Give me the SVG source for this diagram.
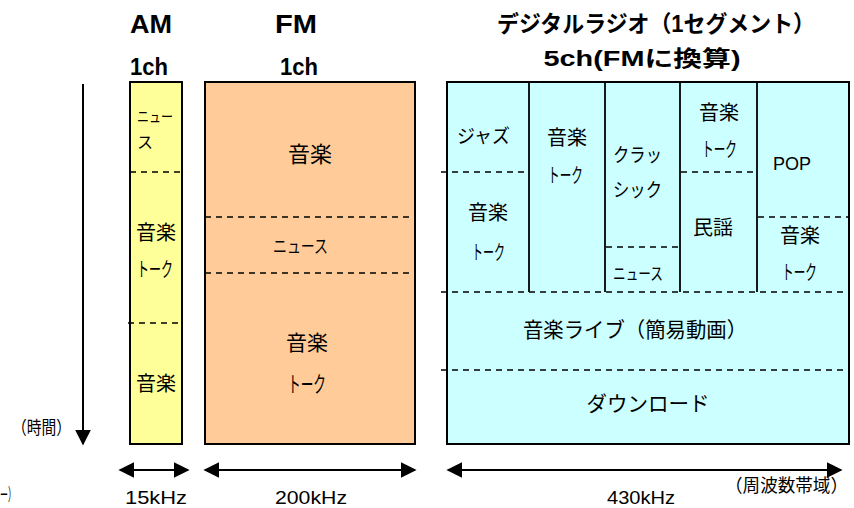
<svg xmlns="http://www.w3.org/2000/svg" width="854" height="508" viewBox="0 0 854 508">
<style>
.box{stroke:#000;stroke-width:2}
.dash{stroke:#000;stroke-width:1.6;stroke-dasharray:6,5;fill:none}
.div{stroke:#000;stroke-width:1.8}
.h{font-family:"Liberation Sans","Noto Sans CJK JP",sans-serif;font-weight:bold;fill:#000}
.t{font-family:"Noto Sans CJK JP","Noto Sans CJK SC",sans-serif;fill:#000}
.l{font-family:"Liberation Sans","Noto Sans CJK JP",sans-serif;fill:#000}
.ln{stroke:#000;stroke-width:2;fill:none}
</style>
<defs>
<marker id="ah2" viewBox="0 0 10 10" refX="9" refY="5" markerWidth="8" markerHeight="8" orient="auto-start-reverse">
<path d="M0,0 L10,5 L0,10 z" fill="#000"/>
</marker>
</defs>

<g id="headers">
<text class="h" x="151" y="33" font-size="25" text-anchor="middle" textLength="42" lengthAdjust="spacingAndGlyphs">AM</text>
<text class="h" x="296" y="33" font-size="25" text-anchor="middle" textLength="42" lengthAdjust="spacingAndGlyphs">FM</text>
<text class="h" x="656" y="32" font-size="23" text-anchor="middle" textLength="318" lengthAdjust="spacingAndGlyphs">デジタルラジオ（1セグメント）</text>
<text class="h" x="149" y="75" font-size="24" text-anchor="middle" textLength="38" lengthAdjust="spacingAndGlyphs">1ch</text>
<text class="h" x="299" y="75" font-size="24" text-anchor="middle" textLength="38" lengthAdjust="spacingAndGlyphs">1ch</text>
<text class="h" x="642" y="66" font-size="22" text-anchor="middle" textLength="197" lengthAdjust="spacingAndGlyphs">5ch(FMに換算)</text>
</g>

<g id="am">
<rect class="box" x="130" y="82" width="52" height="362" fill="#FFFF99"/>
<line class="dash" x1="130" y1="172" x2="181" y2="172"/>
<line class="dash" x1="128" y1="323" x2="181" y2="323"/>
<text class="t" x="137" y="122" font-size="15" textLength="36" lengthAdjust="spacingAndGlyphs">ニュー</text>
<text class="t" x="137" y="148" font-size="16">ス</text>
<text class="t" x="156" y="240" font-size="20" text-anchor="middle">音楽</text>
<text class="t" x="137" y="277" font-size="20" textLength="36" lengthAdjust="spacingAndGlyphs">トーク</text>
<text class="t" x="156" y="391" font-size="20" text-anchor="middle">音楽</text>
</g>

<g id="fm">
<rect class="box" x="205" y="82" width="210" height="362" fill="#FFCC99"/>
<line class="dash" x1="205" y1="217" x2="415" y2="217"/>
<line class="dash" x1="205" y1="273" x2="415" y2="273"/>
<text class="t" x="310" y="162" font-size="22" text-anchor="middle">音楽</text>
<text class="t" x="273" y="253" font-size="18" textLength="55" lengthAdjust="spacingAndGlyphs">ニュース</text>
<text class="t" x="307" y="350" font-size="21" text-anchor="middle">音楽</text>
<text class="t" x="288" y="392" font-size="22" textLength="38" lengthAdjust="spacingAndGlyphs">トーク</text>
</g>

<g id="digital">
<rect class="box" x="447" y="82" width="402" height="362" fill="#CCFFFF"/>
<line class="div" x1="529" y1="82" x2="529" y2="292"/>
<line class="div" x1="605" y1="82" x2="605" y2="292"/>
<line class="div" x1="680" y1="82" x2="680" y2="292"/>
<line class="div" x1="757" y1="82" x2="757" y2="292"/>
<line class="dash" x1="441" y1="292" x2="849" y2="292"/>
<line class="dash" x1="441" y1="370" x2="849" y2="370"/>
<line class="dash" x1="441" y1="172" x2="524" y2="172"/>
<line class="dash" x1="606" y1="247" x2="680" y2="247"/>
<line class="dash" x1="681" y1="172" x2="756" y2="172"/>
<line class="dash" x1="758" y1="217" x2="849" y2="217"/>
<text class="t" x="457" y="143" font-size="19" textLength="53" lengthAdjust="spacingAndGlyphs">ジャズ</text>
<text class="t" x="488" y="220" font-size="20" text-anchor="middle">音楽</text>
<text class="t" x="472" y="260" font-size="20" textLength="33" lengthAdjust="spacingAndGlyphs">トーク</text>
<text class="t" x="567" y="145" font-size="20" text-anchor="middle">音楽</text>
<text class="t" x="548" y="183" font-size="20" textLength="35" lengthAdjust="spacingAndGlyphs">トーク</text>
<text class="t" x="613" y="162" font-size="19" textLength="49" lengthAdjust="spacingAndGlyphs">クラッ</text>
<text class="t" x="613" y="197" font-size="19" textLength="49" lengthAdjust="spacingAndGlyphs">シック</text>
<text class="t" x="613" y="280" font-size="17" textLength="50" lengthAdjust="spacingAndGlyphs">ニュース</text>
<text class="t" x="719" y="120" font-size="20" text-anchor="middle">音楽</text>
<text class="t" x="702" y="157" font-size="20" textLength="35" lengthAdjust="spacingAndGlyphs">トーク</text>
<text class="t" x="713" y="235" font-size="20" text-anchor="middle">民謡</text>
<text class="l" x="792" y="170" font-size="18" text-anchor="middle">POP</text>
<text class="t" x="800" y="243" font-size="20" text-anchor="middle">音楽</text>
<text class="t" x="782" y="280" font-size="20" textLength="35" lengthAdjust="spacingAndGlyphs">トーク</text>
<text class="t" x="635" y="337" font-size="21" text-anchor="middle" textLength="224" lengthAdjust="spacingAndGlyphs">音楽ライブ（簡易動画）</text>
<text class="t" x="648" y="411" font-size="21" text-anchor="middle" textLength="123" lengthAdjust="spacingAndGlyphs">ダウンロード</text>
</g>

<g id="connectors">
<line class="ln" x1="83" y1="84" x2="83" y2="444" marker-end="url(#ah2)"/>
<line class="ln" x1="120" y1="470" x2="188" y2="470" marker-start="url(#ah2)" marker-end="url(#ah2)"/>
<line class="ln" x1="205" y1="470" x2="415" y2="470" marker-start="url(#ah2)" marker-end="url(#ah2)"/>
<line class="ln" x1="448" y1="470" x2="841" y2="470" marker-start="url(#ah2)" marker-end="url(#ah2)"/>
</g>

<g id="labels">
<text class="t" x="12" y="434" font-size="18" textLength="59" lengthAdjust="spacingAndGlyphs">（時間）</text>
<text class="t" x="0" y="501" font-size="17" textLength="16" lengthAdjust="spacingAndGlyphs">ー）</text>
<text class="l" x="156" y="504" font-size="19" text-anchor="middle" textLength="62" lengthAdjust="spacingAndGlyphs">15kHz</text>
<text class="l" x="311" y="504" font-size="19" text-anchor="middle" textLength="72" lengthAdjust="spacingAndGlyphs">200kHz</text>
<text class="l" x="641" y="504" font-size="19" text-anchor="middle" textLength="68" lengthAdjust="spacingAndGlyphs">430kHz</text>
<text class="t" x="848" y="492" font-size="18" text-anchor="end" textLength="123" lengthAdjust="spacingAndGlyphs">（周波数帯域）</text>
</g>
</svg>
